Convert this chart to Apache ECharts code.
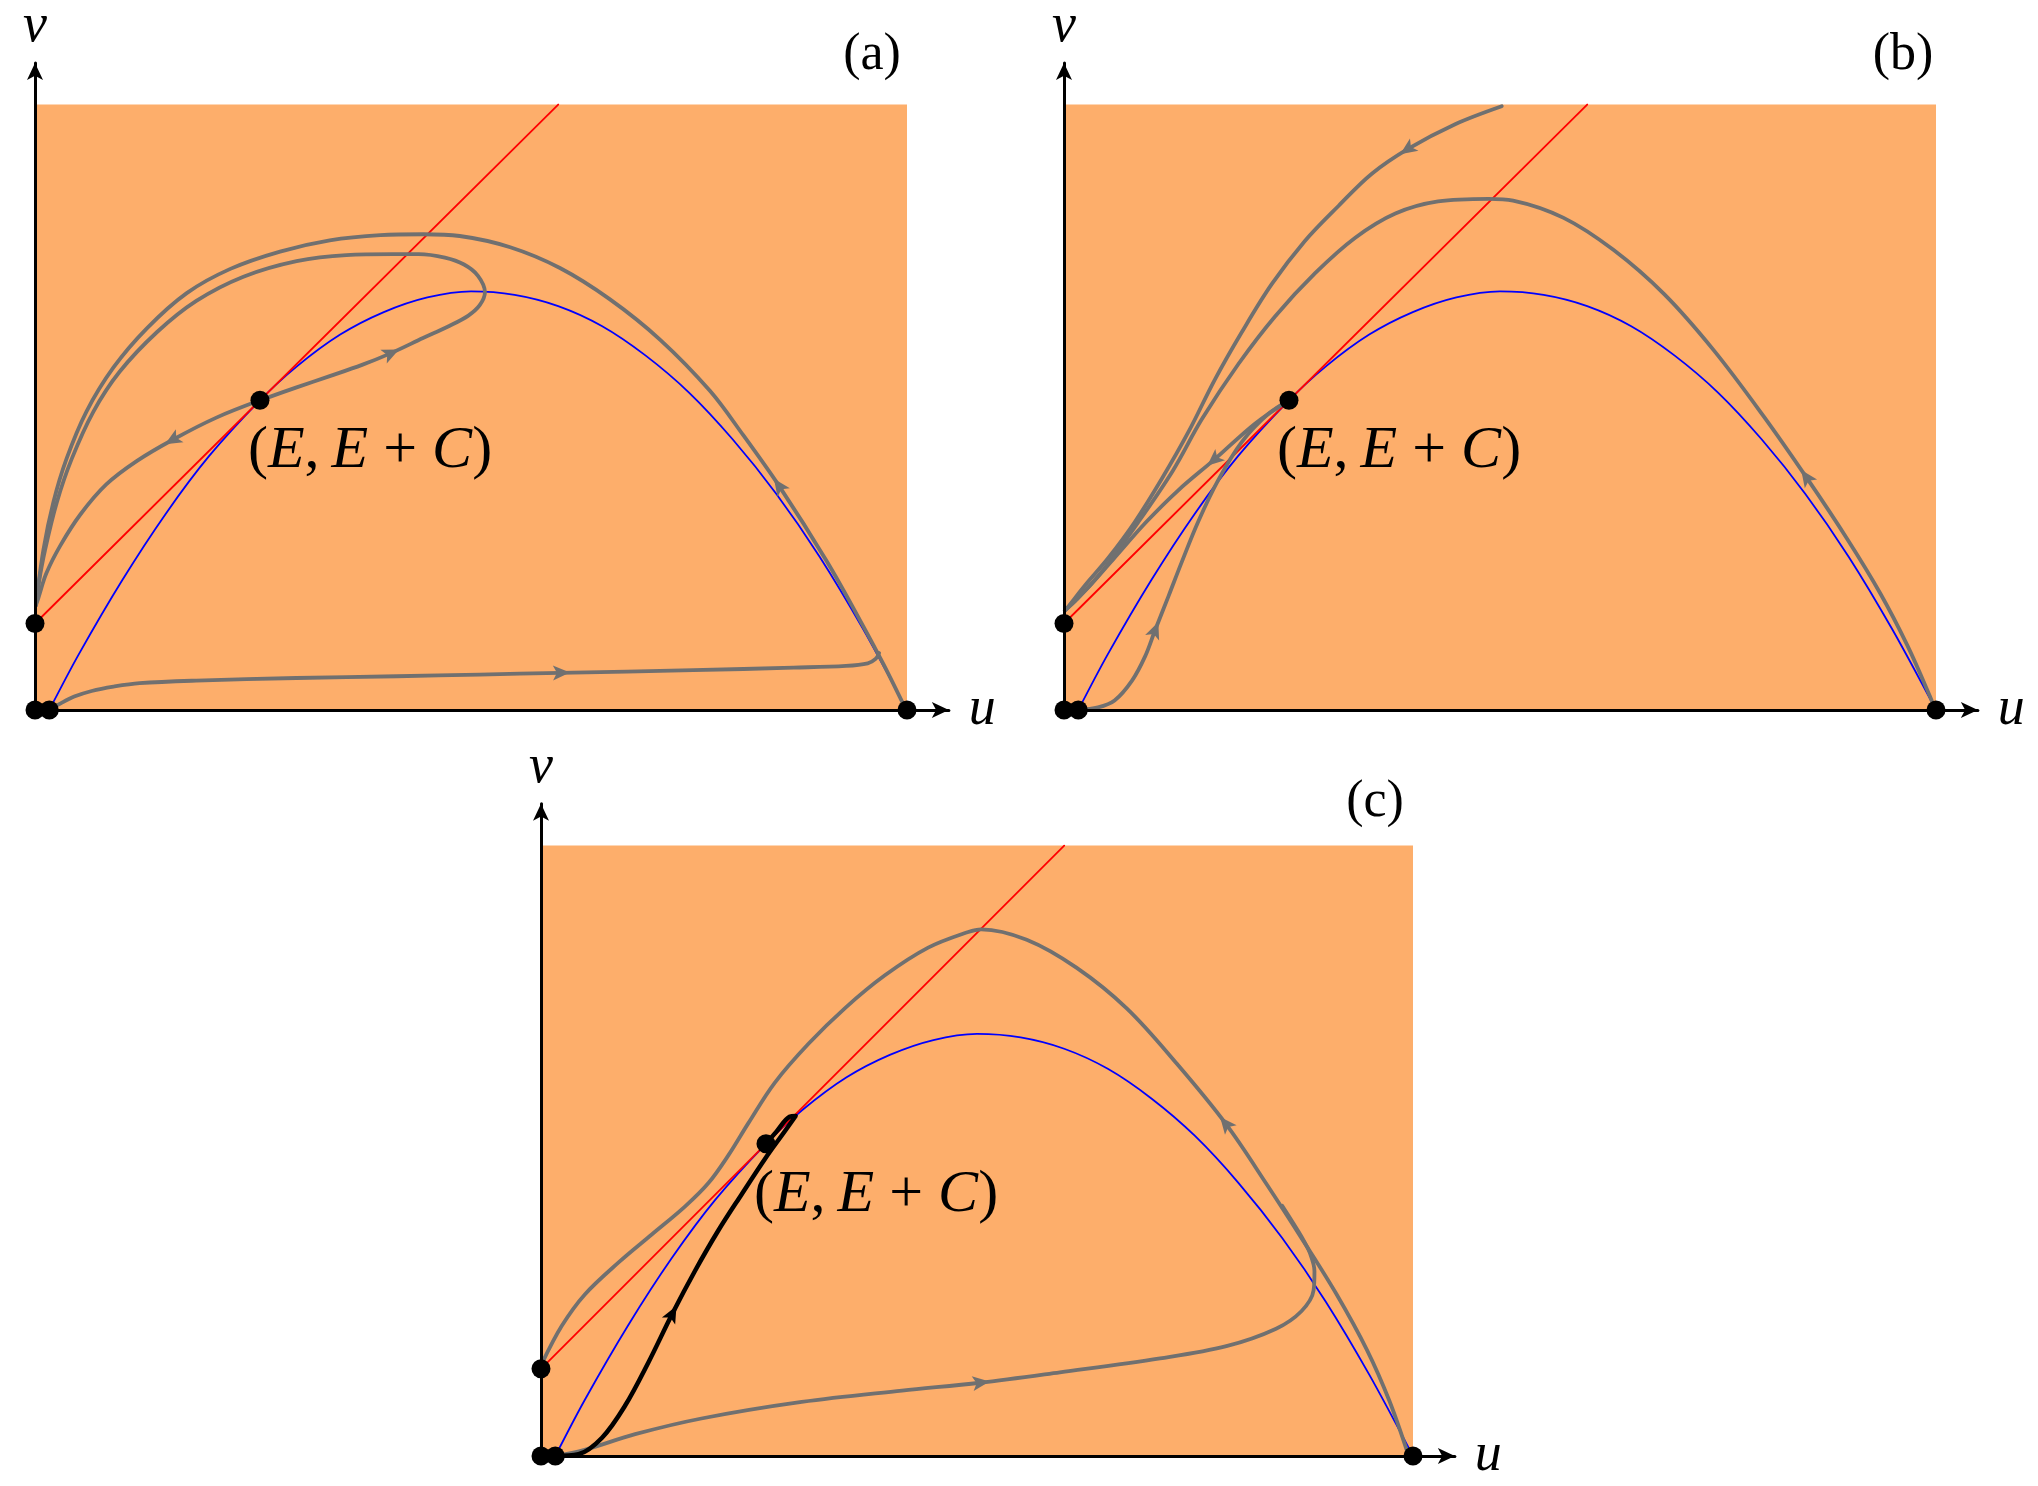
<!DOCTYPE html>
<html><head><meta charset="utf-8">
<script src="https://cdn.jsdelivr.net/npm/echarts/dist/echarts.min.js"></script>
<style>html,body{margin:0;padding:0;background:#fff}#c{width:2038px;height:1486px}</style>
</head><body><div id="c"></div>
<script>
// ---------- data (u, v) ----------
const domainBox = [[0, 0, 1, 0.7]];             // shaded region u0,v0,u1,v1
const blueCurve = [[0.0164,0],[0.05,0.064],[0.1,0.150],[0.15,0.227],[0.2,0.294],[0.258,0.358],[0.3,0.397],[0.35,0.434],[0.4,0.460],[0.45,0.477],[0.5,0.484],[0.55,0.480],[0.6,0.467],[0.65,0.444],[0.7,0.410],[0.75,0.367],[0.8,0.313],[0.85,0.250],[0.9,0.177],[0.95,0.093],[1.0,0]];
const redLine = [[0, 0.1],[0.6, 0.7]];
const equilibria = [[0,0],[0.0164,0],[1,0],[0,0.1]];
const interiorPoint = [[0.258, 0.358]];

// panel (a)
const aOuter = [[0.001,0.121],[0.0096,0.185],[0.021,0.240],[0.036,0.290],[0.059,0.345],[0.090,0.396],[0.128,0.441],[0.174,0.482],[0.224,0.510],[0.281,0.530],[0.338,0.543],[0.396,0.549],[0.445,0.550],[0.487,0.548],[0.545,0.535],[0.602,0.511],[0.659,0.475],[0.717,0.428],[0.774,0.369],[0.812,0.318],[0.854,0.258],[0.908,0.172],[0.946,0.104],[0.973,0.053],[0.998,0.002]];
const aLoop = [[0.258,0.358],[0.300,0.373],[0.338,0.386],[0.375,0.399],[0.407,0.412],[0.445,0.430],[0.475,0.444],[0.497,0.456],[0.510,0.468],[0.516,0.483],[0.508,0.502],[0.492,0.515],[0.470,0.523],[0.440,0.527],[0.410,0.527],[0.357,0.526],[0.300,0.519],[0.239,0.501],[0.185,0.473],[0.140,0.437],[0.097,0.391],[0.067,0.345],[0.042,0.290],[0.025,0.240],[0.0115,0.185],[0.004,0.145],[0.001,0.121]];
const aToAxis = [[0.258,0.358],[0.208,0.338],[0.159,0.313],[0.117,0.288],[0.082,0.261],[0.052,0.226],[0.029,0.190],[0.013,0.158],[0.004,0.130],[0.001,0.121]];
const aBottom = [[0.0164,0],[0.030,0.008],[0.045,0.0155],[0.065,0.022],[0.090,0.027],[0.120,0.031],[0.185,0.034],[0.300,0.037],[0.415,0.039],[0.510,0.041],[0.602,0.043],[0.755,0.046],[0.870,0.049],[0.930,0.051],[0.955,0.054],[0.964,0.059],[0.968,0.066]];
const aArrows = [[0.407,0.412,0.445,0.430],[0.159,0.313,0.117,0.288],[0.854,0.258,0.812,0.318],[0.602,0.043,0.755,0.046]];

// panel (b)
const bTop = [[0.502,0.698],[0.448,0.677],[0.395,0.649],[0.353,0.620],[0.315,0.583],[0.276,0.542],[0.238,0.492],[0.204,0.437],[0.173,0.382],[0.143,0.322],[0.112,0.267],[0.081,0.217],[0.051,0.176],[0.024,0.144],[0.006,0.121],[0.001,0.115]];
const bArc = [[0.001,0.115],[0.015,0.128],[0.045,0.162],[0.085,0.217],[0.125,0.277],[0.158,0.336],[0.200,0.400],[0.242,0.455],[0.288,0.505],[0.334,0.546],[0.380,0.574],[0.429,0.588],[0.487,0.591],[0.515,0.589],[0.573,0.569],[0.630,0.532],[0.688,0.481],[0.745,0.416],[0.802,0.340],[0.852,0.268],[0.898,0.198],[0.936,0.135],[0.967,0.075],[0.993,0.016],[0.999,0]];
const bToAxis = [[0.258,0.358],[0.219,0.331],[0.173,0.290],[0.131,0.254],[0.094,0.217],[0.058,0.176],[0.030,0.144],[0.010,0.124],[0.001,0.115]];
const bLow = [[0.0164,0],[0.039,0.003],[0.058,0.011],[0.078,0.034],[0.093,0.062],[0.104,0.091],[0.120,0.132],[0.135,0.171],[0.154,0.218],[0.177,0.266],[0.204,0.310],[0.234,0.342],[0.258,0.358]];
const bArrows = [[0.395,0.649,0.353,0.620],[0.173,0.290,0.131,0.254],[0.104,0.091,0.120,0.132],[0.852,0.268,0.802,0.340]];

// panel (c)
const cTop = [[0.0015,0.107],[0.0237,0.149],[0.050,0.185],[0.089,0.222],[0.127,0.254],[0.165,0.286],[0.192,0.313],[0.215,0.345],[0.238,0.382],[0.268,0.428],[0.307,0.473],[0.349,0.514],[0.394,0.551],[0.444,0.583],[0.490,0.601],[0.505,0.604],[0.557,0.592],[0.614,0.560],[0.672,0.513],[0.729,0.450],[0.786,0.380],[0.832,0.312],[0.874,0.247],[0.912,0.186],[0.947,0.122],[0.973,0.063],[0.995,0]];
const cBottom = [[0.0164,0],[0.050,0.007],[0.108,0.025],[0.184,0.043],[0.299,0.062],[0.414,0.075],[0.503,0.084],[0.595,0.096],[0.710,0.112],[0.786,0.126],[0.843,0.146],[0.872,0.166],[0.886,0.190],[0.887,0.212],[0.882,0.232],[0.873,0.250],[0.862,0.268],[0.850,0.287]];
const cBlack = [[0.0164,0],[0.043,0.002],[0.070,0.021],[0.096,0.057],[0.123,0.107],[0.150,0.162],[0.177,0.213],[0.203,0.258],[0.230,0.300],[0.257,0.341],[0.280,0.373],[0.292,0.390],[0.285,0.389],[0.270,0.372],[0.258,0.358]];
const cArrows = [[0.503,0.084,0.595,0.096],[0.786,0.380,0.729,0.450]];
const cBlackArrows = [[0.150,0.162,0.177,0.213]];

const panelNames = ['(a)', '(b)', '(c)'];
const axisNames = ['u', 'v'];

// ---------- styling / layout ----------
const ORANGE = '#fdae6b', GRAY = '#707070', FONT = 'Liberation Serif';
const U_MAX = 1.048, V_MAX = 0.748, SCALE = 872;
const origins = [[35, 710], [1064, 710], [541, 1456]];
const panelLabelPos = [[872, 55], [1903, 55], [1375, 802]];

const grids = origins.map(o => ({left: o[0], top: o[1] - V_MAX * SCALE, width: U_MAX * SCALE, height: V_MAX * SCALE, containLabel: false}));
const axisCommon = {
  type: 'value', z: 5, splitLine: {show: false}, axisTick: {show: false}, axisLabel: {show: false},
  axisLine: {show: true, onZero: false, symbol: ['none', 'arrow'], symbolSize: [12, 17], lineStyle: {color: '#000', width: 3}}
};
const xAxes = origins.map((o, i) => Object.assign({}, axisCommon, {gridIndex: i, min: 0, max: U_MAX, name: axisNames[0], nameLocation: 'end', nameGap: 20,
  nameTextStyle: {fontFamily: FONT, fontStyle: 'italic', fontSize: 54, color: '#000', verticalAlign: 'middle', padding: [0, 0, 10, 0]}}));
const yAxes = origins.map((o, i) => Object.assign({}, axisCommon, {gridIndex: i, min: 0, max: V_MAX, name: axisNames[1], nameLocation: 'end', nameGap: 9,
  nameTextStyle: {fontFamily: FONT, fontStyle: 'italic', fontSize: 54, color: '#000', align: 'center', verticalAlign: 'bottom'}}));

function line(gi, data, color, width, smooth, z) {
  return {type: 'line', xAxisIndex: gi, yAxisIndex: gi, data: data, symbol: 'none', showSymbol: false, smooth: smooth,
    lineStyle: {color: color, width: width, cap: 'round', join: 'round'}, z: z || 3, silent: true, animation: false};
}
function box(gi) {
  return {type: 'custom', xAxisIndex: gi, yAxisIndex: gi, data: domainBox, z: 1, silent: true, encode: {x: 0, y: 1},
    renderItem: function (params, api) {
      const p0 = api.coord([api.value(0), api.value(3)]);
      const p1 = api.coord([api.value(2), api.value(1)]);
      return {type: 'rect', shape: {x: p0[0], y: p0[1], width: p1[0] - p0[0], height: p1[1] - p0[1]}, style: {fill: ORANGE}};
    }};
}
function arrows(gi, data, color) {
  return {type: 'custom', xAxisIndex: gi, yAxisIndex: gi, data: data, z: 6, silent: true, encode: {x: 0, y: 1},
    renderItem: function (params, api) {
      const p = api.coord([api.value(0), api.value(1)]);
      const q = api.coord([api.value(2), api.value(3)]);
      const a = Math.atan2(q[1] - p[1], q[0] - p[0]);
      const c = Math.cos(a), s = Math.sin(a);
      const pts = [[10, 0], [-7, 7.5], [-3, 0], [-7, -7.5]].map(function (d) { return [p[0] + d[0] * c - d[1] * s, p[1] + d[0] * s + d[1] * c]; });
      return {type: 'polygon', shape: {points: pts}, style: {fill: color}};
    }};
}
function dots(gi) {
  return {type: 'scatter', xAxisIndex: gi, yAxisIndex: gi, data: equilibria, symbolSize: 19, itemStyle: {color: '#000', opacity: 1}, z: 10, silent: true};
}
function eqLabel(gi) {
  return {type: 'scatter', xAxisIndex: gi, yAxisIndex: gi, data: interiorPoint, symbolSize: 19, itemStyle: {color: '#000', opacity: 1}, z: 10, silent: true,
    label: {show: true, position: 'inside', offset: [-12, 51], align: 'left', verticalAlign: 'middle',
      formatter: '{n|(}{i|E}{n|,\u2009}{i|E}{n|\u2005+\u2005}{i|C}{n|)}',
      rich: {n: {fontFamily: FONT, fontSize: 60, color: '#000'}, i: {fontFamily: FONT, fontSize: 60, fontStyle: 'italic', color: '#000'}}}};
}

const series = [];
for (let g = 0; g < 3; g++) {
  series.push(box(g));
  series.push(line(g, blueCurve, '#0000ff', 1.8, 0.3, 3));
  series.push(line(g, redLine, '#ff0000', 1.8, false, 3));
  series.push(dots(g));
  series.push(eqLabel(g));
}
[aOuter, aLoop, aToAxis, aBottom].forEach(d => series.push(line(0, d, GRAY, 3.8, 0.35, 4)));
series.push(arrows(0, aArrows, GRAY));
[bTop, bArc, bToAxis, bLow].forEach(d => series.push(line(1, d, GRAY, 3.8, 0.35, 4)));
series.push(arrows(1, bArrows, GRAY));
[cTop, cBottom].forEach(d => series.push(line(2, d, GRAY, 3.8, 0.35, 4)));
series.push(line(2, cBlack, '#000', 4.5, 0.35, 4));
series.push(arrows(2, cArrows, GRAY));
series.push(arrows(2, cBlackArrows, '#000'));

const graphic = panelNames.map((t, i) => ({type: 'text', x: panelLabelPos[i][0], y: panelLabelPos[i][1], z: 20,
  style: {text: t, font: '52px "Liberation Serif"', fill: '#000', align: 'center', verticalAlign: 'middle', textAlign: 'center', textVerticalAlign: 'middle'}}));

const chart = echarts.init(document.getElementById('c'), null, {renderer: 'canvas'});
chart.setOption({animation: false, backgroundColor: '#fff', grid: grids, xAxis: xAxes, yAxis: yAxes, series: series, graphic: graphic});
</script></body></html>
